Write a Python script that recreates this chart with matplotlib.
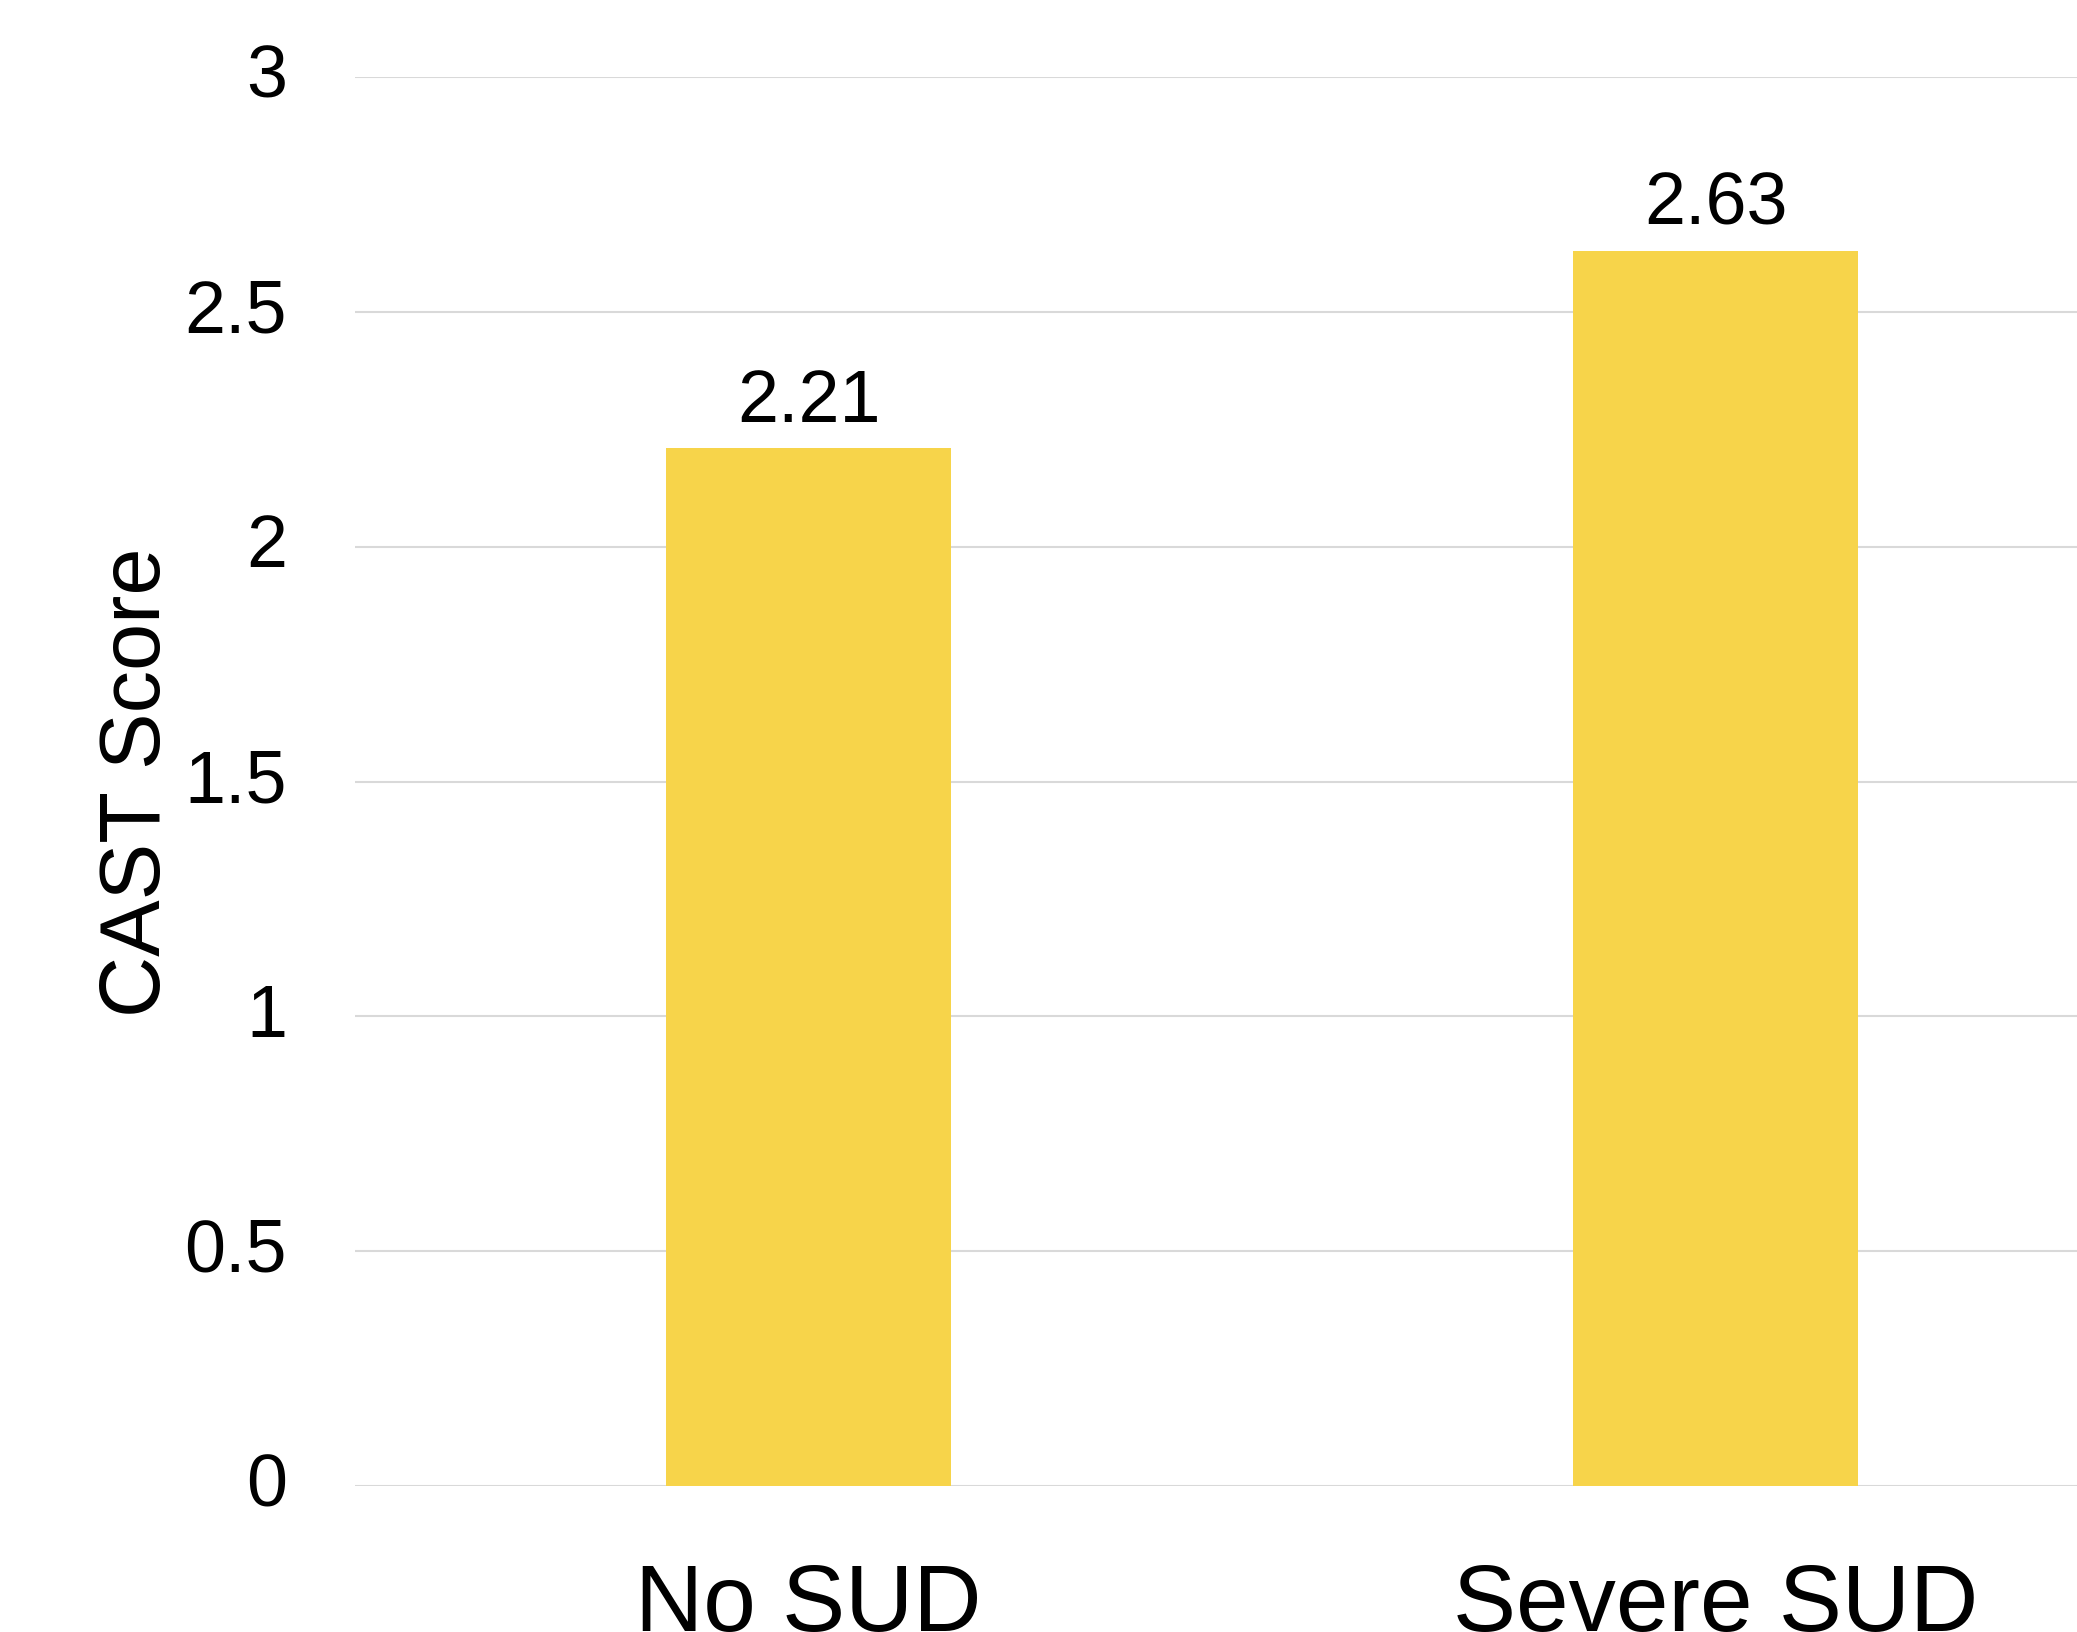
import matplotlib.pyplot as plt
import numpy as np

groups = ['No SUD', 'Severe SUD']
cast_scores = [2.21, 2.63]
y_ticks = [0, 0.5, 1, 1.5, 2, 2.5, 3]
y_tick_labels = ['0', '0.5', '1', '1.5', '2', '2.5', '3']

plt.rcParams['font.family'] = ['Liberation Sans', 'DejaVu Sans']

fig = plt.figure(figsize=(20.77, 16.33), dpi=100)
ax = fig.add_axes([0.1709, 0.0894, 0.8291, 0.8628])

x = np.arange(len(groups))
bars = ax.bar(x, cast_scores, width=0.314, color='#F7D44A', zorder=2)

for xi, val in zip(x, cast_scores):
    ax.annotate(f'{val:.2f}', xy=(xi, val), xytext=(0, 9),
                textcoords='offset points', ha='center', va='bottom',
                fontsize=53, color='black')

ax.set_xlim(-0.5, 1.398)
ax.set_ylim(0, 3)
ax.set_yticks(y_ticks)
ax.set_yticklabels(y_tick_labels, va='center')
ax.set_xticks(x)
ax.set_xticklabels(groups)

ax.grid(axis='y', color='#d9d9d9', linewidth=1.5, zorder=0)
ax.set_axisbelow(True)
for s in ax.spines.values():
    s.set_visible(False)

ax.tick_params(axis='y', length=0, pad=49, labelsize=53)
ax.tick_params(axis='x', length=0, pad=54, labelsize=68)

ax.set_ylabel('CAST Score', fontsize=61)
ax.yaxis.set_label_coords(-0.103, 0.5)

fig.savefig('out.png', dpi=100)
